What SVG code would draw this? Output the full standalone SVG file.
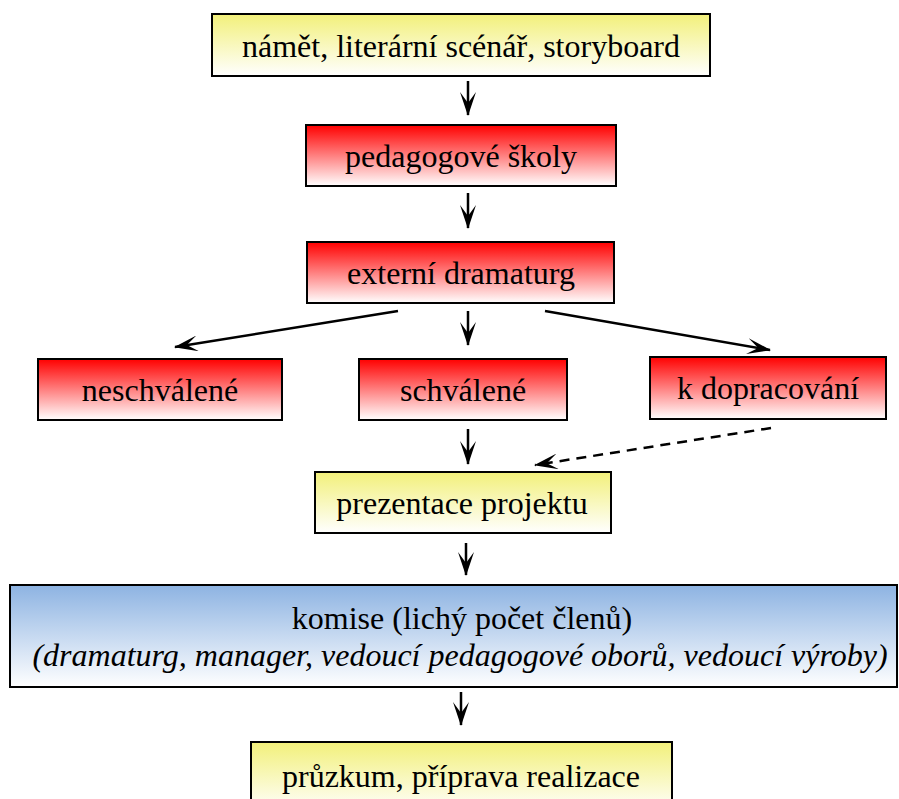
<svg xmlns="http://www.w3.org/2000/svg" width="899" height="799" viewBox="0 0 899 799">
<defs>
<linearGradient id="gy" x1="0" y1="0" x2="0" y2="1"><stop offset="0" stop-color="#f2f07a"/><stop offset="1" stop-color="#ffffff"/></linearGradient>
<linearGradient id="gr" x1="0" y1="0" x2="0" y2="1"><stop offset="0" stop-color="#ff0000"/><stop offset="1" stop-color="#ffffff"/></linearGradient>
<linearGradient id="gb" x1="0" y1="0" x2="0" y2="1"><stop offset="0" stop-color="#8db3e2"/><stop offset="1" stop-color="#ffffff"/></linearGradient>
<marker id="ah" markerWidth="24" markerHeight="16" viewBox="0 0 24 16" refX="23" refY="8" orient="auto" markerUnits="userSpaceOnUse">
<path d="M0,0 L24,8 L0,16 L11,8 z" fill="#000"/>
</marker>
</defs>
<style>
.box rect{stroke:#000;stroke-width:2}
text{font-family:"Liberation Serif","Times New Roman",serif;font-size:32px;fill:#000;text-anchor:middle}
.it{font-style:italic}
.c line{stroke:#000;stroke-width:2.5;marker-end:url(#ah)}
.c .d{stroke-dasharray:10,7}
</style>
<g id="n1" class="box"><rect x="212" y="14" width="498" height="62" fill="url(#gy)"/><text x="461" y="57">námět, literární scénář, storyboard</text></g>
<g id="n2" class="box"><rect x="306" y="125" width="310" height="61" fill="url(#gr)"/><text x="461" y="167">pedagogové školy</text></g>
<g id="n3" class="box"><rect x="307" y="242" width="307" height="61" fill="url(#gr)"/><text x="461" y="284">externí dramaturg</text></g>
<g id="n4" class="box"><rect x="38" y="359" width="244" height="61" fill="url(#gr)"/><text x="160" y="401">neschválené</text></g>
<g id="n5" class="box"><rect x="359" y="359" width="208" height="61" fill="url(#gr)"/><text x="463" y="401">schválené</text></g>
<g id="n6" class="box"><rect x="650" y="357" width="236" height="62" fill="url(#gr)"/><text x="768" y="399">k dopracování</text></g>
<g id="n7" class="box"><rect x="315" y="472" width="296" height="61" fill="url(#gy)"/><text x="462" y="514">prezentace projektu</text></g>
<g id="n8" class="box"><rect x="10" y="585" width="887" height="102" fill="url(#gb)"/><text x="462" y="629">komise (lichý počet členů)</text><text class="it" x="460" y="666">(dramaturg, manager, vedoucí pedagogové oborů, vedoucí výroby)</text></g>
<g id="n9" class="box"><rect x="251" y="742" width="421" height="70" fill="url(#gy)"/><text x="461" y="787">průzkum, příprava realizace</text></g>
<g id="connectors" class="c">
<line x1="468" y1="81" x2="468" y2="115"/>
<line x1="468" y1="193" x2="468" y2="228"/>
<line x1="398" y1="311" x2="175" y2="347"/>
<line x1="468" y1="311" x2="468" y2="345"/>
<line x1="545" y1="311" x2="770" y2="350"/>
<line x1="468" y1="429" x2="468" y2="464"/>
<line class="d" x1="771" y1="428" x2="535" y2="465"/>
<line x1="466" y1="543" x2="466" y2="575"/>
<line x1="461" y1="692" x2="461" y2="725"/>
</g>
</svg>
